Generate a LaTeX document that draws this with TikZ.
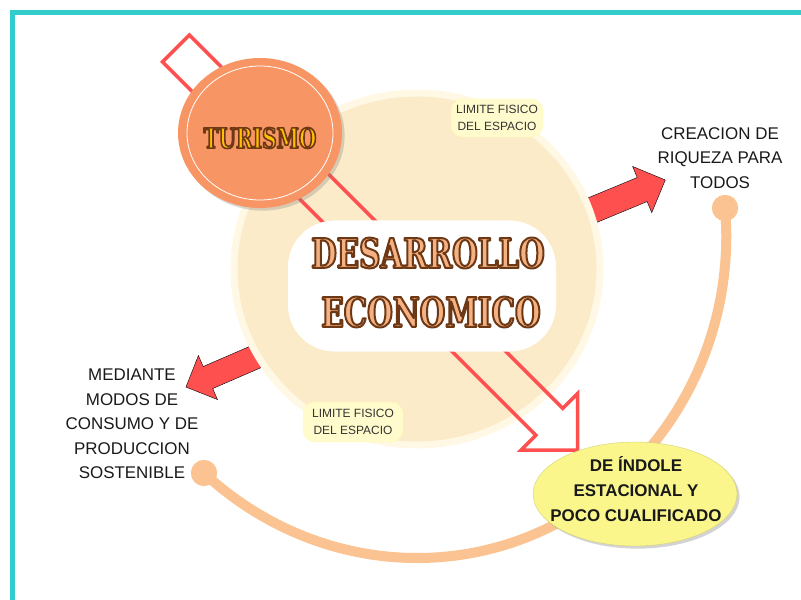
\documentclass[tikz,border=0pt]{standalone}
\usepackage{fontspec}
\setmainfont{Liberation Sans}
\newfontfamily\titlefont[FakeStretch=0.72]{DejaVu Serif}
\usetikzlibrary{shapes,shadows}

\definecolor{verdemar}{RGB}{51,204,204}
\definecolor{rojo}{RGB}{255,80,80}
\definecolor{crema}{RGB}{252,235,200}
\definecolor{bordecrema}{RGB}{255,248,228}
\definecolor{naranja}{RGB}{247,150,100}
\definecolor{amarillo}{RGB}{250,246,140}
\definecolor{durazno}{RGB}{250,195,145}
\definecolor{notafondo}{RGB}{255,251,205}
\definecolor{letra}{RGB}{244,177,131}
\definecolor{oro}{RGB}{255,192,0}

% outlined text: #1 line width (bp), #2 text
\newcommand{\contorno}[2]{\special{pdf:literal direct 2 Tr #1 w 1 j 0.43 0.22 0.08 RG}#2\special{pdf:literal direct 0 Tr}}

% #1 style, #2 centre, #3 angle, #4 half length, #5 half shaft, #6 half head, #7 head length
\newcommand{\flechabloque}[7]{%
  \draw[#1, shift={(#2)}, rotate=#3]
    (-#4,-#5) -- ({#4-#7},-#5) -- ({#4-#7},-#6) -- (#4,0) -- ({#4-#7},#6) -- ({#4-#7},#5) -- (-#4,#5) -- cycle;}

\begin{document}
\begin{tikzpicture}[x=1bp, y=-1bp,
    texto/.style={align=center, font=\fontsize{17}{24.5}\selectfont, text=black!90},
    nota/.style={draw=notafondo!85!yellow, fill=notafondo, rounded corners=12bp, minimum width=92bp, minimum height=38bp, inner sep=2bp, align=center, font=\fontsize{12}{16.5}\selectfont, text=black!80},
    punto/.style={circle, fill=durazno, minimum size=26bp, inner sep=0pt},
    curva/.style={draw=durazno, line width=10bp},
    titulo/.style={font=\titlefont\bfseries\fontsize{41}{41}\selectfont, text=letra}
]
\useasboundingbox (0,0) rectangle (801,600);
\draw[verdemar, line width=5bp, line join=miter] (12,600) -- (12,13) -- (801,13);

% arco exterior
\node[punto] (dotL) at (204,473) {};
\node[punto] (dotR) at (725,208) {};
\coordinate (fondo) at (417,558);
\draw[curva] (dotL.center) .. controls (262,527) and (338,558) .. (fondo)
    .. controls (602,558) and (741,392) .. (dotR.center);
\node[punto] at (dotL) {};
\node[punto] at (dotR) {};

% flechas rojas
\flechabloque{fill=rojo}{623.7,197.2}{22.5}{45}{13}{25}{25}
\flechabloque{fill=rojo}{226.3,369.6}{203.4}{44}{12}{24}{24}

\node[ellipse, fill=crema, draw=bordecrema, line width=7bp, minimum width=366bp, minimum height=352bp] (desarrollo) at (417,269) {};

\flechabloque{draw=rojo, line width=3.5bp, line join=miter}{376.8,249.3}{-45}{284}{19}{40}{40}

\node[ellipse, fill=naranja, drop shadow={opacity=0.3}, minimum width=164bp, minimum height=150bp] (turismo) at (260,133) {};
\draw[white, line width=0.8bp] (turismo.center) ellipse [x radius=73, y radius=67];
\node[font=\titlefont\bfseries\fontsize{28}{28}\selectfont, text=oro] (turtexto) at (260,138) {\contorno{1.6}{TURISMO}};

\node[rectangle, rounded corners=45bp, fill=white, draw=white, line width=3bp, minimum width=265bp, minimum height=128bp] (centro) at (422,286) {};
\node[titulo] (desa) at (428,253) {\contorno{2}{DESARROLLO}};
\node[titulo] (econ) at (431,312) {\contorno{2}{ECONOMICO}};

\node[nota] (limite1) at (497,118) {LIMITE FISICO\\DEL ESPACIO};
\node[nota, minimum width=100bp, minimum height=40bp] (limite2) at (353,422) {LIMITE FISICO\\DEL ESPACIO};

\node[ellipse, fill=amarillo, draw=amarillo!85!black, drop shadow={opacity=0.35}, minimum width=204bp, minimum height=104bp] (indole) at (635,494) {};
\node[texto, font=\bfseries\fontsize{17}{25}\selectfont] (indoletexto) at (636,489) {DE ÍNDOLE\\ESTACIONAL Y\\POCO CUALIFICADO};

\node[texto] (creacion) at (720,158) {CREACION DE\\RIQUEZA PARA\\TODOS};
\node[texto] (mediante) at (132,424) {MEDIANTE\\MODOS DE\\CONSUMO Y DE\\PRODUCCION\\SOSTENIBLE};
\end{tikzpicture}
\end{document}
